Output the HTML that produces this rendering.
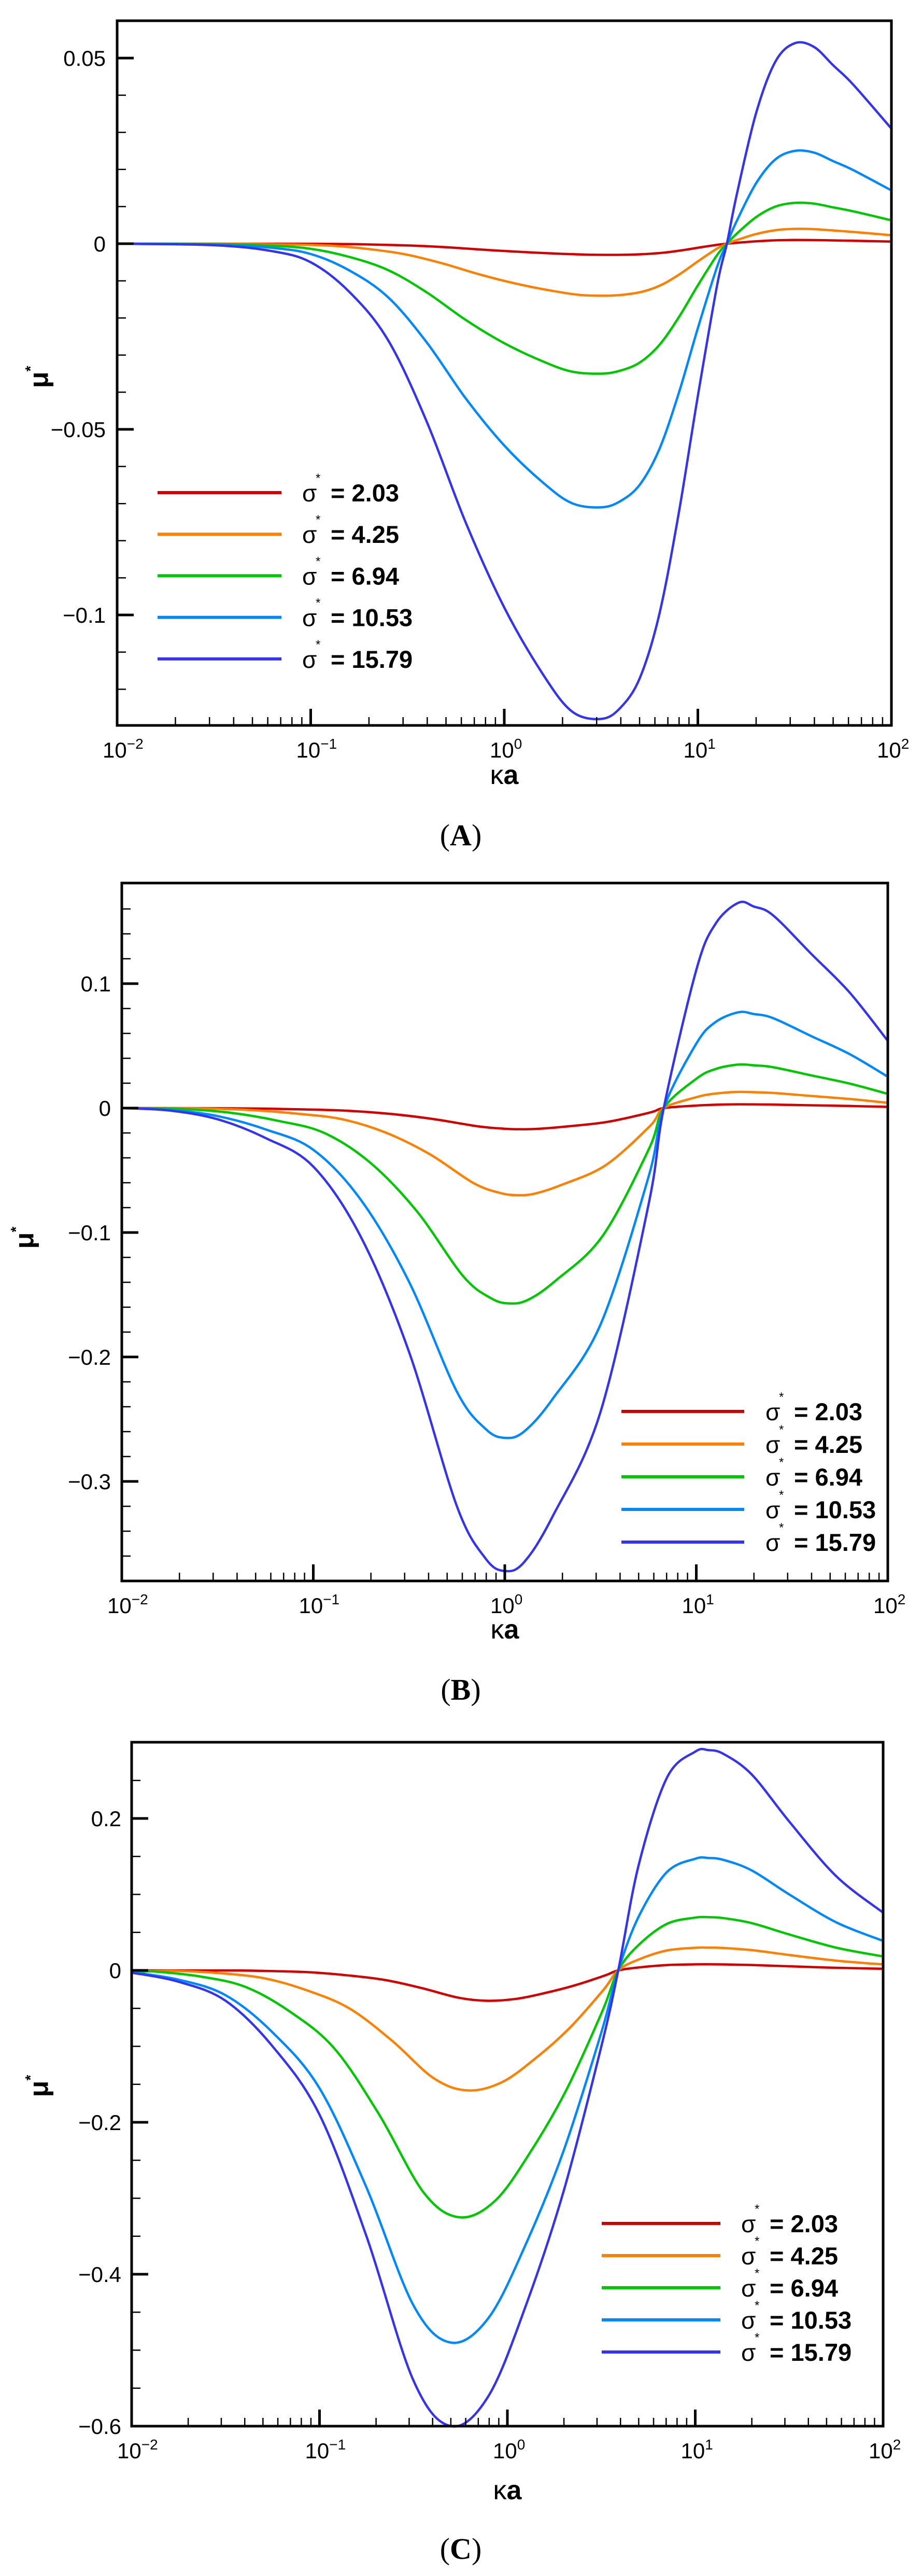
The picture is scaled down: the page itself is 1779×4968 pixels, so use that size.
<!DOCTYPE html>
<html><head><meta charset="utf-8">
<style>
html,body{margin:0;padding:0;background:#fff;}
svg{display:block;}
</style></head>
<body>
<svg id="s" xmlns="http://www.w3.org/2000/svg" width="1779" height="4968" viewBox="0 0 1779 4968">
<rect width="1779" height="4968" fill="#fff"/>
</svg>
<script>
const S=document.getElementById('s');const NS='http://www.w3.org/2000/svg';
function el(t,a,txt){const e=document.createElementNS(NS,t);for(const k in a)e.setAttribute(k,a[k]);if(txt!==undefined)e.textContent=txt;S.appendChild(e);return e;}
const COL=['#d40000','#ff8000','#00c800','#0088ff','#3434f0'];
const LAB=['2.03','4.25','6.94','10.53','15.79'];
function path(pts){
 let d='M'+pts[0][0].toFixed(1)+','+pts[0][1].toFixed(1);
 for(let i=0;i<pts.length-1;i++){const p0=pts[Math.max(0,i-1)],p1=pts[i],p2=pts[i+1],p3=pts[Math.min(pts.length-1,i+2)];
  const c1=[p1[0]+(p2[0]-p0[0])/6,p1[1]+(p2[1]-p0[1])/6],c2=[p2[0]-(p3[0]-p1[0])/6,p2[1]-(p3[1]-p1[1])/6];
  d+=' C'+c1[0].toFixed(1)+','+c1[1].toFixed(1)+' '+c2[0].toFixed(1)+','+c2[1].toFixed(1)+' '+p2[0].toFixed(1)+','+p2[1].toFixed(1);}
 return d;}
function panel(P){
 const X=lx=>P.L+(lx+2)/4*(P.R-P.L);
 const Y=v=>P.y0-v/P.unit*P.unitPx;
 const mn=Math.min(...P.blue.map(p=>p[1])),mx=Math.max(...P.blue.map(p=>p[1]));
 for(let k=0;k<5;k++){
  let pts=P.blue.map(([x,v])=>{let xx=x,vv;
   if(v<0||x<P.x0){vv=v*(P.neg[k]/mn);xx=P.x0-(P.x0-x)*P.sq[k];}
   else{vv=v*(P.pos[k]/mx);}
   return [xx,vv];});
  if(pts[0][0]>-2){const f=pts[0];pts=[[-2,f[1]],[(f[0]-2)/2+0.0,f[1]]].concat(pts);if(pts[1][0]<=-2)pts.splice(1,1);}
  pts=pts.map(([a,b])=>[X(a),Y(b)]);
  el('path',{d:path(pts),fill:'none',stroke:COL[k],'stroke-width':4.5,'stroke-linejoin':'round'});
 }
 el('rect',{x:P.L,y:P.T,width:P.R-P.L,height:P.B-P.T,fill:'none',stroke:'#000','stroke-width':5});
 for(let d=-2;d<=2;d++){const x=X(d);
  if(d>-2&&d<2)el('line',{x1:x,y1:P.B,x2:x,y2:P.B-32,stroke:'#000','stroke-width':5});
  const t=el('text',{x:x-28,y:P.B+62,'font-family':'Liberation Sans, sans-serif','font-size':42});
  t.textContent='10';const sp=document.createElementNS(NS,'tspan');sp.setAttribute('dy',-17);sp.setAttribute('font-size',28);sp.textContent=d<0?'\u2212'+(-d):String(d);t.appendChild(sp);
  if(d<2)for(let m=2;m<=9;m++){const xm=X(d+Math.log10(m));el('line',{x1:xm,y1:P.B,x2:xm,y2:P.B-16,stroke:'#000','stroke-width':2.5});}
 }
 for(let v=P.minT;v<=P.maxT+1e-9;v+=P.minor){const y=Y(v);if(y<P.T+3||y>P.B-3)continue;
  el('line',{x1:P.L,y1:y,x2:P.L+17,y2:y,stroke:'#000','stroke-width':2.5});}
 P.majors.forEach(([v,s])=>{const y=Y(v);
  if(y>P.T+3&&y<P.B-3)el('line',{x1:P.L,y1:y,x2:P.L+32,y2:y,stroke:'#000','stroke-width':5});
  el('text',{x:P.yl,y:y+15,'text-anchor':'end','font-family':'Liberation Sans, sans-serif','font-size':42},s);});
 const mu=el('text',{x:P.mux,y:P.muy,'font-family':'Liberation Sans, sans-serif','font-size':52,'font-weight':'bold',transform:'rotate(-90 '+P.mux+' '+P.muy+')','text-anchor':'middle'},'\u03bc');
 const ms=document.createElementNS(NS,'tspan');ms.setAttribute('dy',-24);ms.setAttribute('font-size',28);ms.textContent='*';mu.appendChild(ms);
 const ka=el('text',{x:(P.L+P.R)/2,y:P.kay,'text-anchor':'middle','font-family':'Liberation Sans, sans-serif','font-size':52},'\u03ba');
 const kb=document.createElementNS(NS,'tspan');kb.setAttribute('font-weight','bold');kb.textContent='a';ka.appendChild(kb);
 el('text',{x:889,y:P.capy,'text-anchor':'middle','font-family':'Liberation Serif, serif','font-size':58},'(').innerHTML='(<tspan font-weight="bold">'+P.cap+'</tspan>)';
 for(let k=0;k<5;k++){const y=P.leg[2]+k*P.leg[3];
  el('line',{x1:P.leg[0],y1:y,x2:P.leg[1],y2:y,stroke:COL[k],'stroke-width':6});
  el('text',{x:P.lt,y:y+17,'font-family':'Liberation Sans, sans-serif','font-size':46},'\u03c3');
  el('text',{x:P.lt+26,y:y-20,'font-family':'Liberation Sans, sans-serif','font-size':24},'*');
  el('text',{x:P.lt+55,y:y+17,'font-family':'Liberation Sans, sans-serif','font-size':47,'font-weight':'bold'},'= '+LAB[k]);
 }
}
panel({L:226,R:1720,T:40,B:1399,y0:470,unit:0.05,unitPx:358,x0:1.15,
 blue:[[-2,0],[-1.5,-0.0004],[-1.2,-0.002],[-1,-0.005],[-0.8,-0.013],[-0.6,-0.026],[-0.4,-0.048],[-0.2,-0.075],[0,-0.098],[0.2,-0.116],[0.35,-0.126],[0.5,-0.128],[0.6,-0.125],[0.7,-0.117],[0.8,-0.1],[0.9,-0.073],[1,-0.041],[1.1,-0.011],[1.15,0],[1.2,0.013],[1.3,0.035],[1.4,0.049],[1.5,0.054],[1.6,0.053],[1.7,0.048],[1.8,0.043],[2,0.031]],
 neg:[-0.003,-0.014,-0.035,-0.071,-0.128],pos:[0.001,0.004,0.011,0.025,0.054],sq:[0.9,0.95,1,1,1],
 minT:-0.12,maxT:0.06,minor:0.01,majors:[[0.05,'0.05'],[0,'0'],[-0.05,'\u22120.05'],[-0.1,'\u22120.1']],yl:204,
 mux:92,muy:727,kay:1512,capy:1630,cap:'A',leg:[304,543,950,80.2],lt:583});
panel({L:235,R:1713,T:1703,B:3049,y0:2137,unit:0.1,unitPx:240,x0:0.83,
 blue:[[-2,0],[-1.75,-0.002],[-1.5,-0.009],[-1.25,-0.024],[-1,-0.047],[-0.75,-0.104],[-0.5,-0.196],[-0.25,-0.32],[-0.1,-0.362],[0,-0.372],[0.1,-0.365],[0.25,-0.328],[0.5,-0.244],[0.75,-0.078],[0.83,0],[1,0.111],[1.1,0.148],[1.22,0.165],[1.3,0.162],[1.4,0.155],[1.6,0.124],[1.8,0.093],[2,0.054]],
 neg:[-0.017,-0.07,-0.157,-0.265,-0.372],pos:[0.003,0.013,0.035,0.077,0.165],sq:[0.9,0.92,0.97,1,1],
 minT:-0.38,maxT:0.18,minor:0.02,majors:[[0.1,'0.1'],[0,'0'],[-0.1,'\u22120.1'],[-0.2,'\u22120.2'],[-0.3,'\u22120.3']],yl:214,
 mux:64,muy:2387,kay:3160,capy:3278,cap:'B',leg:[1199,1436,2722,63],lt:1477});
panel({L:254,R:1704,T:3360,B:4679,y0:3800,unit:0.2,unitPx:293,x0:0.59,
 blue:[[-2,-0.003],[-1.75,-0.015],[-1.5,-0.04],[-1.25,-0.1],[-1,-0.19],[-0.75,-0.35],[-0.5,-0.54],[-0.3,-0.6],[-0.1,-0.56],[0.1,-0.44],[0.3,-0.29],[0.5,-0.1],[0.59,0],[0.7,0.14],[0.85,0.254],[1,0.288],[1.07,0.29],[1.15,0.285],[1.3,0.258],[1.5,0.196],[1.75,0.124],[2,0.076]],
 neg:[-0.04,-0.158,-0.325,-0.49,-0.6],pos:[0.008,0.03,0.07,0.148,0.29],sq:[0.78,0.9,0.95,1,1],
 minT:-0.6,maxT:0.3,minor:0.05,majors:[[0.2,'0.2'],[0,'0'],[-0.2,'\u22120.2'],[-0.4,'\u22120.4'],[-0.6,'\u22120.6']],yl:234,
 mux:92,muy:4023,kay:4820,capy:4935,cap:'C',leg:[1161,1390,4288,62],lt:1430});
</script>
</body></html>
